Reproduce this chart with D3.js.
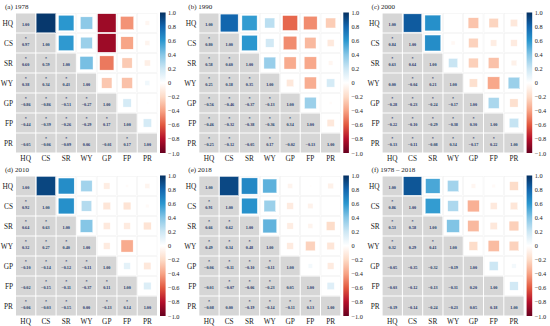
<!DOCTYPE html>
<html>
<head>
<meta charset="utf-8">
<script src="https://cdn.jsdelivr.net/npm/d3@7"></script>
<style>
  body { margin: 0; background: #fff; }
  svg { display: block; font-family: "Liberation Serif", "DejaVu Serif", serif; }
</style>
</head>
<body>
<div id="chart"></div>
<script>
// variables in the matrix
const vars = ['HQ', 'CS', 'SR', 'WY', 'GP', 'FP', 'PR']
const panelTitles = ['(a) 1978', '(b) 1990', '(c) 2000', '(d) 2010', '(e) 2018', '(f) 1978 \u2013 2018']
const barTicks = [1, 0.8, 0.6, 0.4, 0.2, 0, -0.2, -0.4, -0.6, -0.8, -1]

// lower triangle, row by row (CS .. PR), columns HQ ..
const r1978 = [[0.97], [0.60, 0.59], [0.38, 0.34, 0.43], [-0.86, -0.86, -0.51, -0.27],
    [-0.44, -0.39, -0.26, -0.29, 0.17], [-0.05, -0.06, -0.09, 0.06, -0.01, 0.17]]
const r1990 = [[0.80], [0.58, 0.60], [0.25, 0.18, 0.35], [-0.56, -0.46, -0.37, -0.13],
    [-0.46, -0.32, -0.38, -0.36, 0.34], [-0.25, -0.12, -0.05, 0.17, -0.02, -0.13]]
const r2000 = [[0.84], [0.63, 0.64], [0.00, -0.04, 0.21], [-0.28, -0.23, -0.24, -0.17],
    [-0.22, -0.10, -0.29, -0.38, 0.30], [-0.13, -0.11, -0.08, 0.34, -0.17, 0.22]]
const r2010 = [[0.92], [0.64, 0.63], [0.32, 0.27, 0.40], [-0.10, -0.14, -0.12, -0.11],
    [-0.02, -0.15, -0.11, -0.37, 0.11], [-0.06, -0.03, -0.15, 0.00, -0.13, 0.14]]
const r2018 = [[0.91], [0.66, 0.62], [0.49, 0.34, 0.48], [-0.06, -0.11, -0.10, -0.11],
    [-0.01, -0.07, -0.06, -0.23, 0.05], [-0.08, 0.00, -0.19, -0.14, -0.11, 0.13]]
const rAll = [[0.86], [0.53, 0.58], [0.32, 0.29, 0.41], [-0.05, -0.35, -0.32, -0.19],
    [-0.03, -0.12, -0.13, -0.31, 0.20], [-0.19, -0.14, -0.24, -0.23, 0.05, 0.18]]

// significance stars (1 = starred)
const s1978 = [[1], [1, 1], [1, 1, 1], [1, 1, 1, 1], [1, 1, 1, 1, 1], [0, 1, 1, 0, 0, 1]]
const s1990 = [[1], [1, 1], [1, 1, 1], [1, 1, 1, 1], [1, 1, 1, 1, 1], [1, 1, 0, 1, 0, 0]]
const s2000 = [[1], [1, 1], [0, 1, 1], [1, 1, 1, 1], [1, 1, 1, 1, 1], [1, 1, 1, 1, 1, 1]]
const s2010 = [[1], [1, 1], [1, 1, 1], [1, 1, 1, 1], [0, 1, 1, 1, 1], [1, 1, 1, 0, 1, 1]]
const s2018 = [[1], [1, 1], [1, 1, 1], [1, 1, 1, 1], [0, 1, 1, 1, 0], [1, 0, 1, 1, 1, 1]]
const sAll = [[1], [1, 1], [1, 0, 1], [0, 0, 0, 0], [0, 0, 0, 0, 0], [0, 0, 0, 0, 0, 0]]

const panelR = [r1978, r1990, r2000, r2010, r2018, rAll]
const panelS = [s1978, s1990, s2000, s2010, s2018, sAll]

// red-white-blue palette, -1 .. 1 in steps of 0.2
const palette = ['#67001F', '#B40F2A', '#E2583F', '#F7A284', '#FDDBC7', '#FFFFFF',
    '#CDE7F4', '#86C6E6', '#2A97CF', '#1266AE', '#053061']
const color = d3.scaleLinear()
    .domain(d3.range(11).map(i => -1 + i * 0.2))
    .range(palette)

const W = 550, H = 326
const panelW = 183.3, panelH = 163
const grid = { left: 15.5, top: 13, width: 142, height: 140 }
const bar = { x: 160, width: 5.6 }

const svg = d3.select('#chart').append('svg')
    .attr('width', W).attr('height', H)

const defs = svg.append('defs')
const grad = defs.append('linearGradient')
    .attr('id', 'cbar').attr('x1', 0).attr('y1', 1).attr('x2', 0).attr('y2', 0)
palette.forEach((c, i) => grad.append('stop')
    .attr('offset', (i / 10 * 100) + '%').attr('stop-color', c))

const fmt = d3.format('.2f')
const tickFmt = d => d === 0 ? '0' : d3.format('.1f')(d)

panelR.forEach((lower, p) => {
    const g = svg.append('g')
        .attr('transform', 'translate(' + ((p % 3) * panelW) + ',' + (Math.floor(p / 3) * panelH) + ')')

    // full symmetric matrix from the lower triangle
    const cells = []
    vars.forEach((rv, i) => vars.forEach((cv, j) => {
        let r, star = 0
        if (i === j) r = 1
        else if (i > j) { r = lower[i - 1][j]; star = panelS[p][i - 1][j] }
        else r = lower[j - 1][i]
        cells.push({ row: rv, col: cv, i, j, r, star })
    }))

    const x = d3.scaleBand().domain(vars).range([grid.left, grid.left + grid.width])
    const y = d3.scaleBand().domain(vars).range([grid.top, grid.top + grid.height])
    const bw = x.bandwidth(), bh = y.bandwidth()

    // title
    g.append('text')
        .attr('x', 5).attr('y', 8.5)
        .attr('font-size', 7).attr('fill', '#222')
        .text(panelTitles[p])

    // cell backgrounds
    g.selectAll('rect.bg').data(cells).join('rect')
        .attr('class', 'bg')
        .attr('x', d => x(d.col) + 0.5).attr('y', d => y(d.row) + 0.5)
        .attr('width', bw - 1).attr('height', bh - 1)
        .attr('fill', d => d.i >= d.j ? '#d6d6d6' : '#fff')
        .attr('stroke', d => d.i >= d.j ? 'none' : '#f0f0f0')
        .attr('stroke-width', 0.5)

    // upper triangle squares, area ~ |r|
    const upper = cells.filter(d => d.j > d.i)
    g.selectAll('rect.sq').data(upper).join('rect')
        .attr('class', 'sq')
        .each(function (d) {
            const s = Math.sqrt(Math.abs(d.r)) * bw * 0.98
            d3.select(this)
                .attr('x', x(d.col) + (bw - s) / 2)
                .attr('y', y(d.row) + (bh - s) / 2)
                .attr('width', s).attr('height', s)
        })
        .attr('fill', d => color(d.r))
        .attr('stroke', '#fff').attr('stroke-width', 0.4)

    // lower triangle + diagonal values
    const low = cells.filter(d => d.i >= d.j)
    g.selectAll('text.val').data(low).join('text')
        .attr('class', 'val')
        .attr('x', d => x(d.col) + bw / 2)
        .attr('y', d => y(d.row) + bh / 2 + 3)
        .attr('text-anchor', 'middle')
        .attr('font-size', 4.2).attr('font-weight', 'bold')
        .attr('fill', '#24386a')
        .text(d => fmt(d.r))

    g.selectAll('text.star').data(low.filter(d => d.star)).join('text')
        .attr('class', 'star')
        .attr('x', d => x(d.col) + bw / 2)
        .attr('y', d => y(d.row) + bh / 2 - 2.6)
        .attr('text-anchor', 'middle')
        .attr('font-size', 4).attr('font-weight', 'bold')
        .attr('fill', '#24386a')
        .text('*')

    // row and column labels
    g.selectAll('text.rl').data(vars).join('text')
        .attr('class', 'rl')
        .attr('x', grid.left - 2.5).attr('y', d => y(d) + bh / 2 + 2.6)
        .attr('text-anchor', 'end').attr('font-size', 7.3).attr('fill', '#222')
        .text(d => d)

    g.selectAll('text.cl').data(vars).join('text')
        .attr('class', 'cl')
        .attr('x', d => x(d) + bw / 2).attr('y', grid.top + grid.height + 7.5)
        .attr('text-anchor', 'middle').attr('font-size', 7.3).attr('fill', '#222')
        .text(d => d)

    // colour bar
    const cy = d3.scaleLinear().domain([-1, 1]).range([grid.top + grid.height, grid.top - 0.5])
    g.append('rect')
        .attr('x', bar.x).attr('y', cy(1))
        .attr('width', bar.width).attr('height', cy(-1) - cy(1))
        .attr('fill', 'url(#cbar)')

    const axis = g.append('g')
        .attr('transform', 'translate(' + (bar.x + bar.width) + ',0)')
        .call(d3.axisRight(cy).tickValues(barTicks).tickSize(0).tickPadding(2.5).tickFormat(tickFmt))
    axis.select('.domain').remove()
    axis.selectAll('text')
        .attr('font-size', 6.3)
        .attr('font-family', '"Liberation Serif", serif')
        .attr('fill', '#222')
})
</script>
</body>
</html>
